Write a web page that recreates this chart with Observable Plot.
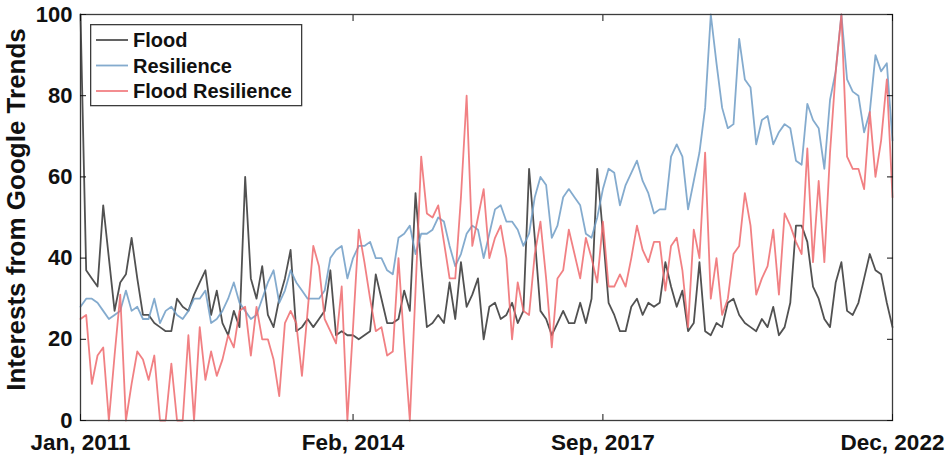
<!DOCTYPE html>
<html><head><meta charset="utf-8">
<script src="https://cdn.jsdelivr.net/npm/d3@7"></script>
<script src="https://cdn.jsdelivr.net/npm/@observablehq/plot@0.6"></script>
<style>
body{margin:0;background:#fff;}
#wrap{position:relative;width:951px;height:458px;}
#legend{position:absolute;left:90px;top:24px;}
</style></head><body><div id="wrap"><div id="legend"></div></div>
<script>
const flood = [100,37,35,33,53,40,27,34,36,45, 35,26,26,24,23,22,22,30,28,27, 31,34,37,26,32,24,21,27,23,60, 35,30,38,26,23,30,35,42,22,23, 25,23,25,27,37,21,22,21,21,20, 21,22,36,30,24,24,25,32,27,56, 38,23,24,26,24,34,25,39,28,31, 35,20,28,29,25,26,29,24,27,62, 45,27,25,21,24,27,24,24,29,24, 30,62,46,29,26,22,22,28,30,26, 29,28,29,39,33,28,32,22,24,39, 22,21,24,23,29,30,26,24,23,22, 25,23,28,21,23,29,48,48,44,33, 30,25,23,34,39,27,26,29,35,41, 37,36,29,23];
const resilience = [28,30,30,29,27,25,26,27,32,27, 28,25,25,30,24,27,28,26,25,27, 30,30,32,24,25,27,30,34,29,27, 25,26,30,34,37,29,32,37,34,32, 30,30,30,32,40,42,43,35,40,43, 43,44,40,40,37,36,45,46,48,41, 46,46,47,50,49,43,38,41,46,48, 47,40,46,52,53,49,49,47,43,46, 55,60,58,45,48,55,57,55,53,46, 45,50,57,62,61,53,58,61,64,59, 56,51,52,52,65,68,65,52,59,66, 77,100,88,77,72,73,94,84,82,68, 74,75,68,71,73,72,64,63,78,74, 72,62,79,86,100,84,81,80,71,76, 90,86,88,69];
const floodResilience = [25,26,9,16,18,0,16,31,0,9, 17,15,10,16,0,0,14,0,0,21, 0,23,10,17,11,15,21,18,27,28, 16,28,20,20,15,6,24,27,24,11, 27,43,38,25,22,19,33,0,23,47, 39,30,22,23,16,17,40,19,0,32, 65,51,50,53,44,35,35,55,80,43, 50,57,40,45,48,40,20,34,27,26, 41,49,35,18,35,37,47,41,35,45, 40,34,49,33,33,36,33,40,48,42, 39,44,44,32,43,45,37,23,47,40, 66,30,40,26,30,41,43,56,48,31, 35,38,47,31,51,48,44,41,67,39, 59,39,66,86,100,65,62,62,57,76, 60,69,84,55];
const seriesNames = ["Flood", "Resilience", "Flood Resilience"];
const seriesColors = ["#333333", "#6f9cc6", "#ee6a6d"];
const xTickIndex = [0, 48, 92, 143];
const xTickLabels = ["Jan, 2011", "Feb, 2014", "Sep, 2017", "Dec, 2022"];
const yTicks = [0, 20, 40, 60, 80, 100];
const yLabel = "Interests from Google Trends";

const seriesValues = [flood, resilience, floodResilience];
const rows = [];
seriesValues.forEach((vals, s) => vals.forEach((v, i) => rows.push({i, value: v, series: seriesNames[s]})));

const font = "'Liberation Sans', Arial, Helvetica, sans-serif";
const empty = () => "";

const chart = Plot.plot({
  width: 951, height: 458,
  marginLeft: 80, marginRight: 59, marginTop: 14, marginBottom: 38,
  x: {domain: [0, 143]},
  y: {domain: [0, 100]},
  color: {domain: seriesNames, range: seriesColors},
  style: {fontFamily: font, fontWeight: "bold", fontSize: "22px", color: "#111", background: "#fff"},
  marks: [
    Plot.line(rows, {x: "i", y: "value", stroke: "series", z: "series", strokeWidth: 1.8, strokeOpacity: 0.85}),
    Plot.frame({stroke: "#3c3c3c", strokeWidth: 1.3}),
    Plot.axisY({anchor: "left", ticks: yTicks, tickSize: 0, tickPadding: 8, fontSize: 22, fontWeight: "bold", label: null}),
    Plot.text([yLabel], {text: (d) => d, frameAnchor: "left", textAnchor: "middle", rotate: -90, dx: -64, dy: -8,
      fontSize: 26, fontWeight: "bold", fill: "#111"}),
    Plot.axisY({anchor: "left", ticks: yTicks, tickSize: 6, dx: 6, tickFormat: empty, label: null}),
    Plot.axisY({anchor: "right", ticks: yTicks, tickSize: 6, dx: -6, tickFormat: empty, label: null}),
    Plot.axisX({anchor: "bottom", ticks: xTickIndex, tickSize: 0, tickPadding: 14, fontSize: 22.5, fontWeight: "bold",
      tickFormat: (d) => xTickLabels[xTickIndex.indexOf(d)], label: null}),
    Plot.axisX({anchor: "bottom", ticks: xTickIndex, tickSize: 6, dy: -6, tickFormat: empty, label: null}),
    Plot.axisX({anchor: "top", ticks: xTickIndex, tickSize: 6, dy: 6, tickFormat: empty, label: null})
  ]
});
document.getElementById("wrap").prepend(chart);

// legend (overlay inside the plot frame)
const lg = d3.select("#legend").append("svg").attr("width", 214).attr("height", 84)
  .style("font-family", font).style("font-weight", "bold").style("font-size", "20px");
lg.append("rect").attr("x", 0.65).attr("y", 0.65).attr("width", 211).attr("height", 81)
  .attr("fill", "#fff").attr("stroke", "#3c3c3c").attr("stroke-width", 1.3);
seriesNames.forEach((name, k) => {
  const y = 16 + k * 25.5;
  lg.append("line").attr("x1", 6).attr("x2", 38).attr("y1", y).attr("y2", y)
    .attr("stroke", seriesColors[k]).attr("stroke-width", 1.8).attr("stroke-opacity", 0.85);
  lg.append("text").attr("x", 43).attr("y", y).attr("dy", "0.36em").attr("fill", "#111").text(name);
});
</script></body></html>
